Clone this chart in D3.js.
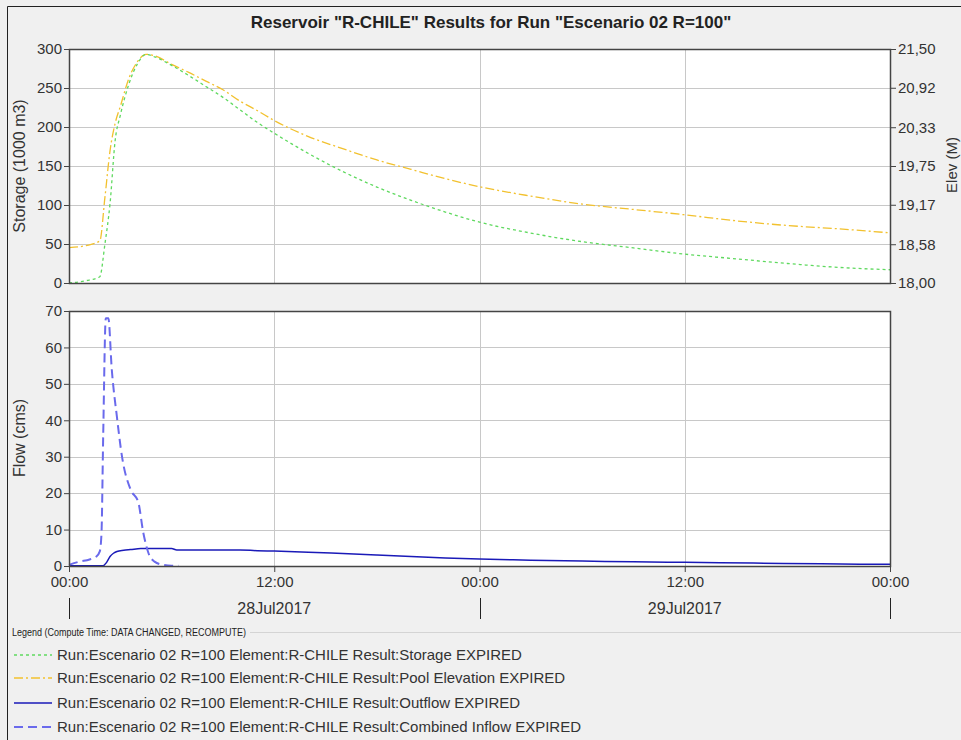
<!DOCTYPE html>
<html lang="en">
<head>
<meta charset="UTF-8">
<title>Reservoir R-CHILE</title>
<script src="https://d3js.org/d3.v7.min.js"></script>
<style>
  body { margin: 0; background: #f0f0f0; overflow: hidden; }
  svg { display: block; font-family: "Liberation Sans", Arial, sans-serif; }
</style>
</head>
<body>
<svg width="961" height="740"></svg>
<script>
// hours after 28Jul2017 00:00
const topHours = [0, 1, 1.8, 2.1, 2.4, 2.7, 3, 3.5, 4, 4.5, 5, 6, 7, 8, 9, 10, 11, 12, 14, 16, 18, 20, 22, 24, 27, 30, 33, 36, 39, 42, 45, 48];
const storage = [0, 3, 8, 50, 102, 183, 215, 255, 281, 293, 290, 279, 266, 252, 238, 222, 206, 192, 166, 143, 123, 106, 91, 78, 64, 53, 45, 37, 31, 25, 20, 17];
const poolElev = [18.53, 18.56, 18.63, 19.28, 19.98, 20.39, 20.64, 21.06, 21.31, 21.42, 21.40, 21.27, 21.15, 21.02, 20.89, 20.72, 20.58, 20.43, 20.19, 20.01, 19.84, 19.70, 19.56, 19.44, 19.30, 19.18, 19.10, 19.02, 18.93, 18.86, 18.81, 18.75];

const inflowHours = [0, 0.6, 1.2, 1.6, 1.8, 1.9, 2.0, 2.15, 2.3, 2.5, 2.8, 3.1, 3.6, 4.05, 4.35, 4.65, 5.0, 5.5, 6.0, 6.4];
const inflow = [0.3, 1.2, 1.8, 2.6, 4, 9, 36, 68, 68, 54, 41, 30, 21, 17.5, 9, 3.5, 1.2, 0.3, 0.1, 0.1];

const outflowHours = [0, 2.0, 2.2, 2.4, 2.6, 2.8, 3.2, 3.6, 4.2, 6.0, 6.3, 10, 11, 12, 14, 16, 18, 20, 22, 24, 27, 30, 33, 36, 40, 44, 48];
const outflow = [0.1, 0.1, 1.0, 2.6, 3.5, 4.0, 4.3, 4.5, 4.8, 4.8, 4.4, 4.4, 4.2, 4.1, 3.8, 3.4, 3.0, 2.6, 2.2, 1.9, 1.6, 1.35, 1.15, 1.0, 0.8, 0.6, 0.45];

const storageTicks = [0, 50, 100, 150, 200, 250, 300];
const elevTicks = [18.00, 18.58, 19.17, 19.75, 20.33, 20.92, 21.50];
const flowTicks = [0, 10, 20, 30, 40, 50, 60, 70];
const dayLabels = ["28Jul2017", "29Jul2017"];

const legendItems = [
  "Run:Escenario 02 R=100 Element:R-CHILE Result:Storage EXPIRED",
  "Run:Escenario 02 R=100 Element:R-CHILE Result:Pool Elevation EXPIRED",
  "Run:Escenario 02 R=100 Element:R-CHILE Result:Outflow EXPIRED",
  "Run:Escenario 02 R=100 Element:R-CHILE Result:Combined Inflow EXPIRED"
];

const t0 = Date.UTC(2017, 6, 28);
const toDate = h => new Date(t0 + h * 3600e3);

const svg = d3.select("svg");
const textColor = "#333";
const gridColor = "#c8c8c8";
const frameColor = "#444";

// outer frame
svg.append("path").attr("d", "M7.5,740V6.5H961")
  .attr("fill", "none").attr("stroke", "#222");

svg.append("text")
  .attr("x", 491).attr("y", 28)
  .attr("text-anchor", "middle")
  .attr("font-size", 17).attr("font-weight", "bold").attr("fill", "#222")
  .text('Reservoir "R-CHILE" Results for Run "Escenario 02 R=100"');

const left = 69, right = 890;
const x = d3.scaleUtc().domain([toDate(0), toDate(48)]).range([left, right]);
const xTicks = [0, 12, 24, 36, 48].map(toDate);

const ySto = d3.scaleLinear().domain([0, 300]).range([283, 49]);
const yElev = d3.scaleLinear().domain([18, 21.5]).range([283, 49]);
const yFlow = d3.scaleLinear().domain([0, 70]).range([566, 311]);

function panel(y, ticks) {
  const g = svg.append("g");
  const [y0, y1] = y.range();
  g.append("rect").attr("x", left).attr("y", y1).attr("width", right - left).attr("height", y0 - y1)
    .attr("fill", "#fff");
  g.selectAll(".hg").data(ticks.slice(1, -1)).join("line")
    .attr("x1", left).attr("x2", right)
    .attr("y1", d => Math.round(y(d)) + 0.5).attr("y2", d => Math.round(y(d)) + 0.5)
    .attr("stroke", gridColor);
  g.selectAll(".vg").data(xTicks.slice(1, -1)).join("line")
    .attr("x1", d => Math.round(x(d)) + 0.5).attr("x2", d => Math.round(x(d)) + 0.5)
    .attr("y1", y1).attr("y2", y0)
    .attr("stroke", gridColor);
  return g;
}

function frame(y) {
  const [y0, y1] = y.range();
  svg.append("rect").attr("x", left + 0.5).attr("y", y1 + 0.5)
    .attr("width", right - left).attr("height", y0 - y1)
    .attr("fill", "none").attr("stroke", frameColor).attr("stroke-width", 1.5);
}

function styleAxis(g) {
  g.select(".domain").remove();
  g.selectAll(".tick line").attr("stroke", frameColor);
  g.selectAll(".tick text").attr("fill", textColor)
    .attr("font-size", 15).attr("font-family", "Liberation Sans, Arial, sans-serif");
}

// ---- top panel: storage + elevation
panel(ySto, storageTicks);

const lineSto = d3.line().x((d, i) => x(toDate(topHours[i]))).y(d => ySto(d)).curve(d3.curveMonotoneX);
const lineElev = d3.line().x((d, i) => x(toDate(topHours[i]))).y(d => yElev(d)).curve(d3.curveMonotoneX);

svg.append("path").datum(poolElev).attr("d", lineElev)
  .attr("fill", "none").attr("stroke", "#f2c12e").attr("stroke-width", 1.3)
  .attr("stroke-dasharray", "9,3,2,3");
svg.append("path").datum(storage).attr("d", lineSto)
  .attr("fill", "none").attr("stroke", "#5fd95f").attr("stroke-width", 1.3)
  .attr("stroke-dasharray", "3,3");

frame(ySto);

svg.append("g").attr("transform", `translate(${left},0)`)
  .call(d3.axisLeft(ySto).tickValues(storageTicks).tickSize(5).tickPadding(2).tickFormat(d3.format("d")))
  .call(styleAxis);
svg.append("g").attr("transform", `translate(${right + 1},0)`)
  .call(d3.axisRight(yElev).tickValues(elevTicks).tickSize(5).tickPadding(2)
    .tickFormat(d => d3.format(".2f")(d).replace(".", ",")))
  .call(styleAxis);

svg.append("text").attr("transform", "translate(25,166) rotate(-90)")
  .attr("text-anchor", "middle").attr("font-size", 16).attr("fill", textColor)
  .text("Storage (1000 m3)");
svg.append("text").attr("transform", "translate(957,165) rotate(-90)")
  .attr("text-anchor", "middle").attr("font-size", 15).attr("fill", textColor)
  .text("Elev (M)");

// ---- bottom panel: flows
panel(yFlow, flowTicks);

const lineIn = d3.line().x((d, i) => x(toDate(inflowHours[i]))).y(d => yFlow(d)).curve(d3.curveMonotoneX);
const lineOut = d3.line().x((d, i) => x(toDate(outflowHours[i]))).y(d => yFlow(d)).curve(d3.curveMonotoneX);

svg.append("path").datum(outflow).attr("d", lineOut)
  .attr("fill", "none").attr("stroke", "#1a1ab8").attr("stroke-width", 1.5);
svg.append("path").datum(inflow).attr("d", lineIn)
  .attr("fill", "none").attr("stroke", "#6a6aec").attr("stroke-width", 2)
  .attr("stroke-dasharray", "9,5");

frame(yFlow);

svg.append("g").attr("transform", `translate(${left},0)`)
  .call(d3.axisLeft(yFlow).tickValues(flowTicks).tickSize(5).tickPadding(2).tickFormat(d3.format("d")))
  .call(styleAxis);

svg.append("text").attr("transform", "translate(25,438) rotate(-90)")
  .attr("text-anchor", "middle").attr("font-size", 16).attr("fill", textColor)
  .text("Flow (cms)");

// time axis
svg.append("g").attr("transform", "translate(0,567)")
  .call(d3.axisBottom(x).tickValues(xTicks).tickSize(5).tickPadding(4).tickFormat(d3.utcFormat("%H:%M")))
  .call(styleAxis);

// day row
const dayStarts = [0, 24, 48].map(toDate);
svg.selectAll(".daytick").data(dayStarts).join("line")
  .attr("x1", d => Math.round(x(d)) + 0.5).attr("x2", d => Math.round(x(d)) + 0.5)
  .attr("y1", 598).attr("y2", 619).attr("stroke", "#222");
svg.selectAll(".daylab").data(dayLabels).join("text")
  .attr("x", (d, i) => x(toDate(12 + 24 * i))).attr("y", 614)
  .attr("text-anchor", "middle").attr("font-size", 16).attr("fill", textColor)
  .text(d => d);

// legend
svg.append("text").attr("x", 12).attr("y", 636)
  .attr("font-size", 10).attr("fill", "#222")
  .attr("textLength", 234).attr("lengthAdjust", "spacingAndGlyphs")
  .text("Legend (Compute Time: DATA CHANGED, RECOMPUTE)");
svg.append("line").attr("x1", 250).attr("x2", 961).attr("y1", 632.5).attr("y2", 632.5)
  .attr("stroke", "#d4d4d4");

const legendStyles = [
  { color: "#5fd95f", dash: "3,3", width: 1.3 },
  { color: "#f2c12e", dash: "9,3,2,3", width: 1.3 },
  { color: "#1a1ab8", dash: null, width: 1.5 },
  { color: "#6a6aec", dash: "9,5", width: 2 }
];
const legendY = [655, 678, 703, 727];
const lg = svg.selectAll(".leg").data(legendItems).join("g")
  .attr("transform", (d, i) => `translate(0,${legendY[i]})`);
lg.append("line").attr("x1", 14).attr("x2", 52).attr("y1", 0).attr("y2", 0)
  .attr("stroke", (d, i) => legendStyles[i].color)
  .attr("stroke-width", (d, i) => legendStyles[i].width)
  .attr("stroke-dasharray", (d, i) => legendStyles[i].dash);
lg.append("text").attr("x", 57).attr("y", 5)
  .attr("font-size", 15).attr("fill", textColor)
  .text(d => d);
</script>
</body>
</html>
